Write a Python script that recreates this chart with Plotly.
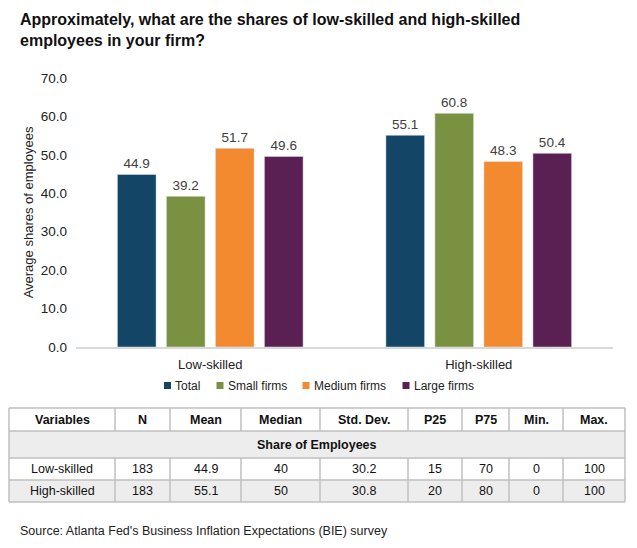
import plotly.graph_objects as go

# ---------------- data ----------------
categories = ["Low-skilled", "High-skilled"]
series_names = ["Total", "Small firms", "Medium firms", "Large firms"]
total_vals = [44.9, 55.1]
small_vals = [39.2, 60.8]
medium_vals = [51.7, 48.3]
large_vals = [49.6, 50.4]
series_colors = ["#124566", "#7A9142", "#F38A30", "#5A1F53"]

y_tick_vals = [0, 10, 20, 30, 40, 50, 60, 70]
y_tick_text = ["0.0", "10.0", "20.0", "30.0", "40.0", "50.0", "60.0", "70.0"]

table_columns = ["Variables", "N", "Mean", "Median", "Std. Dev.", "P25", "P75", "Min.", "Max."]
table_section = "Share of Employees"
row_variables = ["Low-skilled", "High-skilled"]
col_n = ["183", "183"]
col_mean = ["44.9", "55.1"]
col_median = ["40", "50"]
col_std = ["30.2", "30.8"]
col_p25 = ["15", "20"]
col_p75 = ["70", "80"]
col_min = ["0", "0"]
col_max = ["100", "100"]

title_text = ("Approximately, what are the shares of low-skilled and high-skilled"
              "<br>employees in your firm?")
source_text = "Source: Atlanta Fed's Business Inflation Expectations (BIE) survey"

# ---------------- layout geometry (pixels) ----------------
W, H = 637, 548
ML, MR, MT, MB = 76, 24, 78, 201
PW = W - ML - MR
PH = H - MT - MB


def px(x):
    return (x - ML) / PW


def py(y):
    return (H - MB - y) / PH


FONT = "Liberation Sans, Arial, sans-serif"

fig = go.Figure()
all_vals = [total_vals, small_vals, medium_vals, large_vals]
for name, vals, col in zip(series_names, all_vals, series_colors):
    fig.add_trace(go.Bar(
        x=categories, y=vals, name=name, marker_color=col,
        texttemplate="%{y:.1f}", textposition="outside",
        textfont=dict(size=13.5, color="#404040", family=FONT),
        cliponaxis=False, showlegend=False,
    ))

shapes = []
annotations = []

# title
annotations.append(dict(text=f"<b>{title_text}</b>", xref="paper", yref="paper",
                        x=px(18), y=py(9), xanchor="left", yanchor="top", align="left",
                        showarrow=False, font=dict(family=FONT, size=16, color="#111111")))

# legend (drawn from series names / colours)
legend_marker_x = [167.5, 220, 306, 406]
for name, col, mx in zip(series_names, series_colors, legend_marker_x):
    shapes.append(dict(type="rect", xref="paper", yref="paper",
                       x0=px(mx - 3.5), x1=px(mx + 3.5), y0=py(389), y1=py(382),
                       fillcolor=col, line_width=0))
    annotations.append(dict(text=name, xref="paper", yref="paper",
                            x=px(mx + 5.5), y=py(385.5), xanchor="left", yanchor="middle",
                            showarrow=False, font=dict(family=FONT, size=12, color="#222222")))

# table geometry
col_edges = [9, 115, 170, 241, 320, 408, 462, 509, 563, 625]
row_edges = [408, 431, 458, 480, 502]
line_col = "#BFBFBF"
gray = "#EDEDED"

for (y0, y1) in [(row_edges[1], row_edges[2]), (row_edges[3], row_edges[4])]:
    shapes.append(dict(type="rect", xref="paper", yref="paper",
                       x0=px(col_edges[0]), x1=px(col_edges[-1]),
                       y0=py(y1), y1=py(y0), fillcolor=gray, line_width=0, layer="below"))
for y in row_edges:
    shapes.append(dict(type="line", xref="paper", yref="paper",
                       x0=px(col_edges[0]), x1=px(col_edges[-1]), y0=py(y), y1=py(y),
                       line=dict(color=line_col, width=1.5)))
for i, x in enumerate(col_edges):
    outer = i == 0 or i == len(col_edges) - 1
    segs = [(row_edges[0], row_edges[-1])] if outer else [(row_edges[0], row_edges[1]), (row_edges[2], row_edges[-1])]
    for (y0, y1) in segs:
        shapes.append(dict(type="line", xref="paper", yref="paper",
                           x0=px(x), x1=px(x), y0=py(y0), y1=py(y1),
                           line=dict(color=line_col, width=1.5)))

centers = [(col_edges[i] + col_edges[i + 1]) / 2 for i in range(len(col_edges) - 1)]


def cell(text, xc, yc, bold=False):
    annotations.append(dict(
        text=f"<b>{text}</b>" if bold else text, xref="paper", yref="paper",
        x=px(xc), y=py(yc), xanchor="center", yanchor="middle", showarrow=False,
        font=dict(family=FONT, size=12.5, color="#111111")))


for xc, t in zip(centers, table_columns):
    cell(t, xc, (row_edges[0] + row_edges[1]) / 2, bold=True)
cell(table_section, (col_edges[0] + col_edges[-1]) / 2, (row_edges[1] + row_edges[2]) / 2, bold=True)
table_cols = [row_variables, col_n, col_mean, col_median, col_std, col_p25, col_p75, col_min, col_max]
for r in range(2):
    yc = (row_edges[2 + r] + row_edges[3 + r]) / 2
    for xc, colvals in zip(centers, table_cols):
        cell(colvals[r], xc, yc)

annotations.append(dict(text=source_text, xref="paper", yref="paper",
                        x=px(18), y=py(531), xanchor="left", yanchor="middle",
                        showarrow=False, font=dict(family=FONT, size=12.5, color="#222222")))

fig.update_layout(
    width=W, height=H,
    margin=dict(l=ML, r=MR, t=MT, b=MB, autoexpand=False),
    paper_bgcolor="white", plot_bgcolor="white",
    font=dict(family=FONT, size=13, color="#222222"),
    barmode="group", bargap=0.27, bargroupgap=0.21,
    showlegend=False,
    xaxis=dict(showline=True, linecolor="#D9D9D9", linewidth=1.5, ticks="",
               tickfont=dict(family=FONT, size=13, color="#222222"), showgrid=False,
               ticklabelstandoff=5),
    yaxis=dict(range=[0, 70], tickvals=y_tick_vals, ticktext=y_tick_text, showgrid=False,
               zeroline=False, showline=False, ticks="",
               tickfont=dict(family=FONT, size=13.5, color="#222222"),
               ticklabelstandoff=8,
               title=dict(text="Average shares of employees", standoff=4,
                          font=dict(family=FONT, size=13, color="#222222"))),
    shapes=shapes, annotations=annotations,
)

fig.write_html("out.html")
